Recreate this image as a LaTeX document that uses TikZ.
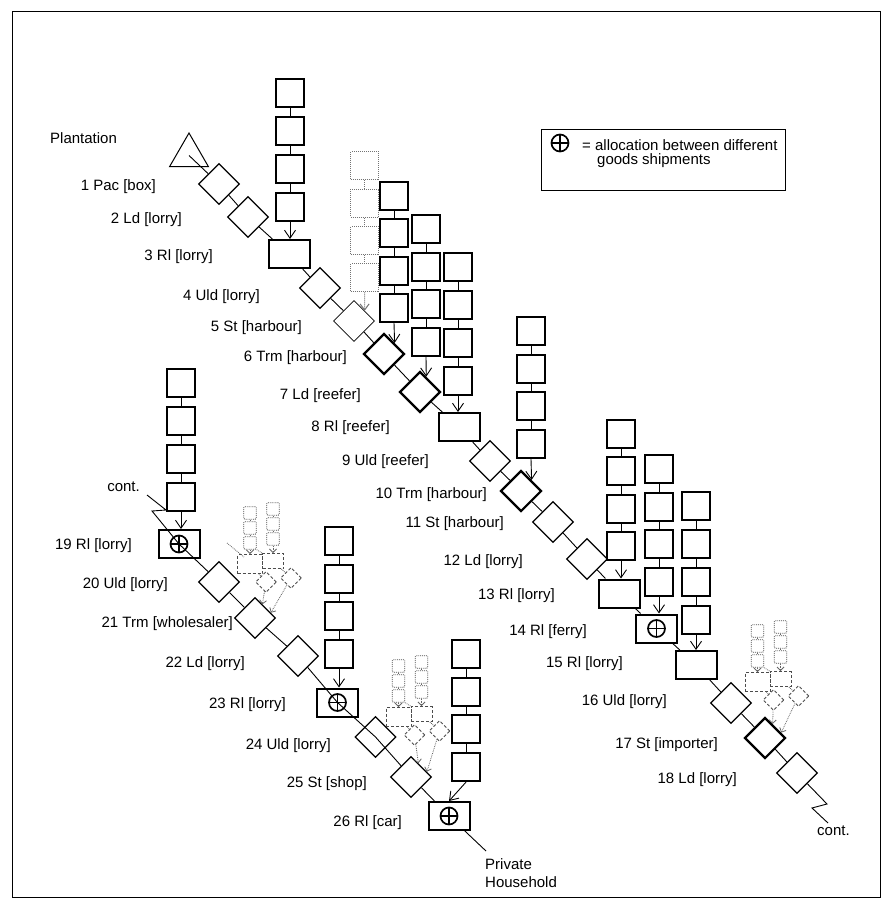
\documentclass[tikz,border=0pt]{standalone}
\usepackage{fontspec}
\setmainfont{Liberation Sans}
\usetikzlibrary{shapes.geometric,arrows.meta,calc}
\newcommand\mystack[4]{%
  \foreach \k in {1,...,4}{\node[sq] (#1\k) at (#2,{#3+(\k-1)*#4}) {};}
  \draw[link] (#11) -- (#12) (#12) -- (#13) (#13) -- (#14);}
\newcommand\ghostcluster[3]{%
  \begin{scope}[shift={(#1,#2)}]
    \foreach \k in {1,2,3}{\node[gsm] (gl\k) at (0,{6+(\k-1)*15}) {};
      \node[gsm] (gr\k) at (23,{2+(\k-1)*15}) {};}
    \draw[gln] (gl1) -- (gl2) (gl2) -- (gl3) (gr1) -- (gr2) (gr2) -- (gr3);
    \node[gdr,minimum width=25pt,minimum height=19pt] (grl) at (0,57) {};
    \node[gdr,minimum width=21pt,minimum height=15pt] (grr) at (23,54) {};
    \node[gdd] (gda) at (16,75) {};
    \node[gdd] (gdb) at (41,71) {};
    \draw[gln,gtip] (gl3) -- (grl);
    \draw[gln,gtip] (gr3) -- (grr);
    \draw[gln] (gl3.south east) -- (grr.north west);
    \draw[gln] (grl) -- (gda) (grr) -- (gdb);
  \end{scope}
  \draw[gln,gtip] (gda) -- ($(#3.north)!0.35!(#3.east)$);
  \draw[gln,gtip] (gdb) -- ($(#3.north)!0.75!(#3.east)$);
}
\begin{document}
\begin{tikzpicture}[x=1pt,y=-1pt,
  lab/.style={anchor=east,inner sep=0pt,font=\fontsize{15}{18}\selectfont},
  labw/.style={anchor=west,inner sep=0pt,font=\fontsize{15}{18}\selectfont},
  sq/.style={draw,line width=2pt,minimum size=28pt,inner sep=0pt},
  gsq/.style={draw=black!55,densely dotted,line width=1pt,minimum size=28pt,inner sep=0pt},
  dia/.style={draw,diamond,line width=1.3pt,minimum width=41pt,minimum height=41pt,inner sep=0pt},
  tdia/.style={dia,line width=2.2pt},
  rl/.style={draw,line width=2pt,minimum width=41pt,minimum height=28pt,inner sep=0pt},
  op/.style={circle,draw,line width=1.7pt,minimum size=17pt,inner sep=0pt,
     path picture={\draw[line width=1.7pt] (path picture bounding box.west) -- (path picture bounding box.east) (path picture bounding box.north) -- (path picture bounding box.south);}},
  link/.style={line width=0.9pt},
  feed/.style={line width=0.9pt,-{Straight Barb[length=8pt,width=11pt]}},
  gsm/.style={draw=black!70,densely dotted,line width=0.9pt,minimum size=12.5pt,inner sep=0pt,rounded corners=1pt},
  gdr/.style={draw=black!70,dash pattern=on 3pt off 2pt,line width=0.9pt,inner sep=0pt},
  gdd/.style={diamond,draw=black!70,dash pattern=on 3pt off 2pt,line width=0.9pt,minimum width=21pt,minimum height=21pt,inner sep=0pt},
  gln/.style={draw=black!60,densely dotted,line width=0.8pt},
  gtip/.style={-{Straight Barb[length=3.5pt,width=7pt]}}
]
\useasboundingbox (0,0) rectangle (892,909);
\draw[line width=1pt] (12,12) rectangle (880,897);

% legend
\node[draw,line width=1.3pt,minimum width=244pt,minimum height=61pt,anchor=north west,inner sep=0pt] (legend) at (541,129) {};
\node[op] (lgo) at (560,143) {};
\node[labw] (lg1) at (582,145) {= allocation between different};
\node[labw] (lg2) at (597,161) {goods shipments};

% ---------------- chain 1 ----------------
\node[draw,regular polygon,regular polygon sides=3,minimum size=45pt,inner sep=0pt,line width=1pt] (tri) at (189,155.5) {};
\node[dia] (d1) at (219,184) {};
\node[dia] (d2) at (248,217) {};
\node[rl] (r3) at (289,254) {};
\node[dia] (d4) at (320,288) {};
\node[dia,line width=0.8pt] (d5) at (354,321) {};
\node[tdia] (d6) at (384,354) {};
\node[tdia] (d7) at (420,392) {};
\node[rl] (r8) at (459,427) {};
\node[dia] (d9) at (490,461) {};
\node[tdia] (d10) at (521,491) {};
\node[dia] (d11) at (553,522) {};
\node[dia] (d12) at (587,559) {};
\node[rl] (r13) at (619.5,593.5) {};
\node[rl] (r14) at (656.5,628.5) {};
\node[op] (o14) at (r14.center) {};
\node[rl] (r15) at (696,665) {};
\node[dia] (d16) at (731,703) {};
\node[tdia] (d17) at (765,738) {};
\node[dia] (d18) at (797,773) {};
\coordinate (e1) at (827,804);
\coordinate (e2) at (812,808);
\coordinate (e3) at (828,823);

\draw[link] (tri.center) -- (d1);
\draw[link] (d1) -- (d2) -- (r3) -- (d4) -- (d5) -- (d6) -- (d7) -- (r8) -- (d9) -- (d10) -- (d11) -- (d12) -- (r13) -- (r14) -- (r15) -- (d16) -- (d17) -- (d18) -- (e1) -- (e2) -- (e3);

% labels chain 1
\node[labw] (lplant) at (50,138) {Plantation};
\node[lab] (l1) at (156,187) {1 Pac [box]};
\node[lab] (l2) at (182,220) {2 Ld [lorry]};
\node[lab] (l3) at (213,257) {3 Rl [lorry]};
\node[lab] (l4) at (260,297) {4 Uld [lorry]};
\node[lab] (l5) at (302,328) {5 St [harbour]};
\node[lab] (l6) at (347,358) {6 Trm [harbour]};
\node[lab] (l7) at (361,396) {7 Ld [reefer]};
\node[lab] (l8) at (390,428) {8 Rl [reefer]};
\node[lab] (l9) at (429,462) {9 Uld [reefer]};
\node[lab] (l10) at (487,495) {10 Trm [harbour]};
\node[lab] (l11) at (504,524) {11 St [harbour]};
\node[lab] (l12) at (523,562) {12 Ld [lorry]};
\node[lab] (l13) at (555,596) {13 Rl [lorry]};
\node[lab] (l14) at (587,632) {14 Rl [ferry]};
\node[lab] (l15) at (623,664) {15 Rl [lorry]};
\node[lab] (l16) at (667,702) {16 Uld [lorry]};
\node[lab] (l17) at (718,745) {17 St [importer]};
\node[lab] (l18) at (737,780) {18 Ld [lorry]};
\node[labw] (lc1) at (817,831) {cont.};

% stacks chain 1
\mystack{sA}{290}{93}{38}
\draw[feed] (sA4.south) -- (sA4.south |- r3.north);
\foreach \k in {1,...,4}{\node[gsq] (sB\k) at (364.5,{166+(\k-1)*37.3}) {};}
\draw[draw=black!55,densely dotted,line width=1pt] (sB1) -- (sB2) (sB2) -- (sB3) (sB3) -- (sB4);
\draw[draw=black!55,densely dotted,line width=1pt,-{Straight Barb[length=6pt,width=9pt]}] (sB4.south) -- ($(d5.north)!0.51!(d5.east)$);
\mystack{sC}{394}{196}{37.3}
\draw[feed] (sC4.south) -- ($(d6.north)!0.49!(d6.east)$);
\mystack{sD}{426}{229}{37.7}
\draw[feed] (sD4.south) -- ($(d7.north)!0.29!(d7.east)$);
\mystack{sE}{458}{267}{38}
\draw[feed] (sE4.south) -- (sE4.south |- r8.north);
\mystack{sF}{531}{331}{37.7}
\draw[feed] (sF4.south) -- ($(d10.north)!0.49!(d10.east)$);
\mystack{sG}{621}{434}{37.3}
\draw[feed] (sG4.south) -- (sG4.south |- r13.north);
\mystack{sH}{659}{469}{37.7}
\draw[feed] (sH4.south) -- (sH4.south |- r14.north);
\mystack{sI}{696}{506}{38}
\draw[feed] (sI4.south) -- (sI4.south |- r15.north);

\ghostcluster{757.5}{625}{d17}

% ---------------- chain 2 ----------------
\node[rl] (r19) at (179,544) {};
\node[op] (o19) at (r19.center) {};
\node[dia] (d20) at (219,582) {};
\node[dia] (d21) at (255,618) {};
\node[dia] (d22) at (298,656) {};
\node[rl] (r23) at (337.5,702.5) {};
\node[op] (o23) at (r23.center) {};
\node[dia] (d24) at (375.5,737) {};
\node[dia] (d25) at (411,777) {};
\node[rl] (r26) at (449,816) {};
\node[op] (o26) at (r26.center) {};
\coordinate (b1) at (147,495);
\coordinate (b2) at (166,510);
\coordinate (b3) at (152,511);
\coordinate (ph) at (486,851);

\draw[link] (b1) -- (b2) -- (b3) -- (r19.center) -- (d20) -- (d21) -- (d22) -- (r23.center) -- (d24.center) -- (d25) -- (r26) -- (ph);

\node[lab] (lc2) at (140,487) {cont.};
\node[lab] (l19) at (132,546) {19 Rl [lorry]};
\node[lab] (l20) at (168,585) {20 Uld [lorry]};
\node[lab] (l21) at (233,624) {21 Trm [wholesaler]};
\node[lab] (l22) at (245,664) {22 Ld [lorry]};
\node[lab] (l23) at (286,705) {23 Rl [lorry]};
\node[lab] (l24) at (331,746) {24 Uld [lorry]};
\node[lab] (l25) at (367,784) {25 St [shop]};
\node[lab] (l26) at (402,823) {26 Rl [car]};
\node[labw] (lph1) at (485,864) {Private};
\node[labw] (lph2) at (485,882) {Household};

\mystack{sK}{181}{383}{38}
\draw[feed] (sK4.south) -- (sK4.south |- r19.north);
\mystack{sL}{339}{541}{37.7}
\draw[feed] (sL4.south) -- (sL4.south |- r23.north);
\mystack{sM}{466}{654}{37.7}
\draw[feed] (sM4.south) -- (r26.north);

\ghostcluster{250}{507}{d21}
\draw[gln] (227,543) -- (244,557);
\ghostcluster{398.5}{660}{d25}
\end{tikzpicture}
\end{document}
